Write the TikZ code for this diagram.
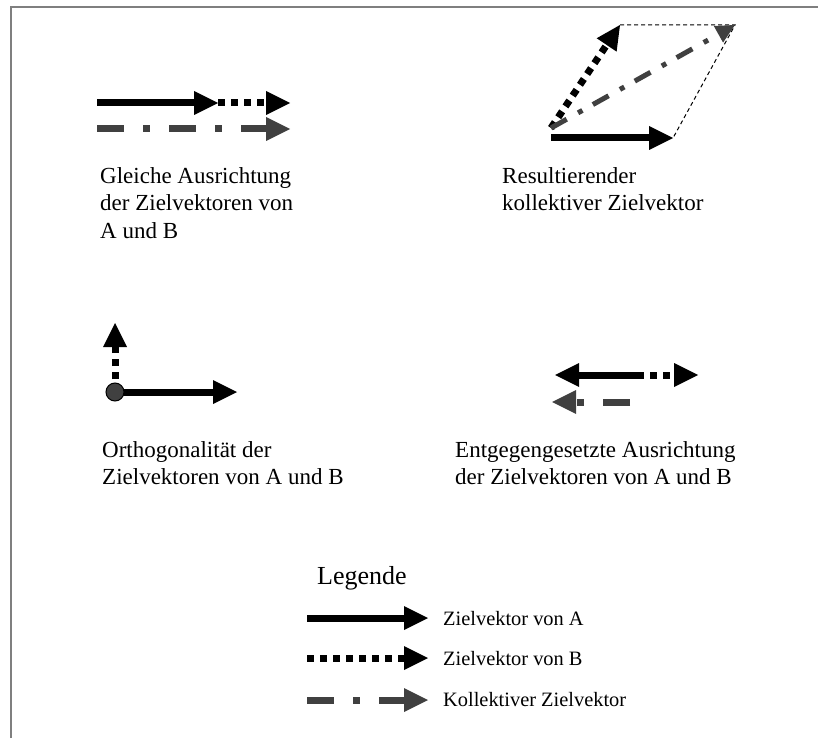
\documentclass[tikz,border=0pt]{standalone}
\usepackage{fontspec}
\setmainfont{Liberation Serif}
\usetikzlibrary{arrows.meta}
\definecolor{vecgray}{HTML}{404040}
\definecolor{framegray}{HTML}{7F7F7F}
\tikzset{
  vechead/.style={-{Triangle[length=24pt,width=24pt,line width=0pt]}},
  vecA/.style={line width=7pt, black, vechead},
  vecB/.style={line width=7pt, black, dash pattern=on 7pt off 6pt, vechead},
  vecC/.style={line width=7pt, vecgray, dash pattern=on 27pt off 19pt on 7pt off 19pt, vechead},
  vecCsmall/.style={line width=5pt, vecgray, dash pattern=on 18pt off 13pt on 5pt off 12pt,
    -{Triangle[length=19pt,width=19pt,line width=0pt]}},
  helper/.style={line width=1pt, black, dash pattern=on 4pt off 3pt},
  caption/.style={anchor=base west, align=left, inner sep=0pt, font=\fontsize{23}{27.5}\selectfont},
  legendtext/.style={anchor=base west, inner sep=0pt, font=\fontsize{20.4}{24}\selectfont},
}
\begin{document}
\begin{tikzpicture}[x=1pt,y=-1pt]
\useasboundingbox (0,0) rectangle (818,738);

% frame
\coordinate (fbl) at (11,738);
\coordinate (ftl) at (11,7);
\coordinate (ftr) at (818,7);
\draw[framegray, line width=2pt] (fbl) -- (ftl) -- (ftr);

% --- same direction (captions anchored at the baseline of their last line) ---
\coordinate (p1a) at (97,103);
\coordinate (p1b) at (218,103);
\coordinate (p1c) at (290,103);
\coordinate (p1d) at (97,129);
\coordinate (p1e) at (290,129);
\draw[vecA] (p1a) -- (p1b);
\draw[vecB] (p1b) -- (p1c);
\draw[vecC] (p1d) -- (p1e);
\node[caption] (cap1) at (100,238) {Gleiche Ausrichtung\\der Zielvektoren von\\A und B};

% --- resulting collective vector ---
\coordinate (p2o) at (551,128);
\coordinate (p2a) at (673,138);
\coordinate (p2s) at (551,138);
\coordinate (p2b) at (620,25);
\coordinate (p2c) at (735,25);
\draw[helper] (p2b) -- (p2c) -- (p2a);
\draw[vecA] (p2s) -- (p2a);
\draw[vecB] (p2o) -- (p2b);
\draw[vecCsmall] (p2o) -- (p2c);
\node[caption] (cap2) at (502,210.5) {Resultierender\\kollektiver Zielvektor};

% --- orthogonal vectors ---
\coordinate (p3o) at (115,392);
\coordinate (p3a) at (237,392);
\coordinate (p3b) at (115,323);
\draw[vecA] (p3o) -- (p3a);
\draw[vecB] (p3o) -- (p3b);
\node[circle, fill=vecgray, draw=black, line width=1pt, minimum size=18pt, inner sep=0pt] (p3dot) at (p3o) {};
\node[caption] (cap3) at (102,484.5) {Orthogonalität der\\Zielvektoren von A und B};

% --- opposite directions ---
\coordinate (p4o) at (637,375);
\coordinate (p4a) at (555,375);
\coordinate (p4b) at (698,375);
\coordinate (p4c) at (630,402);
\coordinate (p4d) at (552,402);
\draw[vecA] (p4o) -- (p4a);
\draw[vecB] (p4o) -- (p4b);
\draw[vecC] (p4c) -- (p4d);
\node[caption] (cap4) at (455,484.5) {Entgegengesetzte Ausrichtung\\der Zielvektoren von A und B};

% --- legend ---
\node[anchor=base west, inner sep=0pt, font=\fontsize{26}{30}\selectfont] (legtitle) at (317,584) {Legende};
\coordinate (la0) at (307,618);
\coordinate (la1) at (428,618);
\coordinate (lb0) at (307,658);
\coordinate (lb1) at (428,658);
\coordinate (lc0) at (307,700);
\coordinate (lc1) at (428,700);
\draw[vecA] (la0) -- (la1);
\draw[vecB] (lb0) -- (lb1);
\draw[vecC] (lc0) -- (lc1);
\node[legendtext] (lta) at (443,625) {Zielvektor von A};
\node[legendtext] (ltb) at (443,665) {Zielvektor von B};
\node[legendtext] (ltc) at (443,706) {Kollektiver Zielvektor};
\end{tikzpicture}
\end{document}
